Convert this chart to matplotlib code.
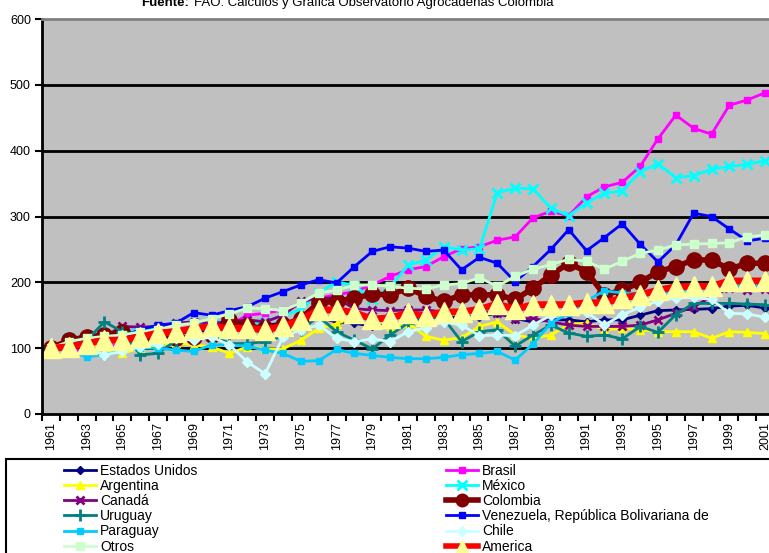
import matplotlib
matplotlib.use("Agg")
import matplotlib.pyplot as plt
from matplotlib.patches import Rectangle
from matplotlib.lines import Line2D

plt.rcParams['font.family'] = ['Liberation Sans', 'DejaVu Sans']

years = list(range(1961, 2002))

estados_unidos = [100,103,107,110,113,117,120,122,125,128,130,130,135,138,142,146,140,138,133,135,
                  140,148,145,148,148,153,145,140,143,143,140,143,143,150,157,158,159,160,164,165,161]
brasil = [100,98,95,102,106,108,112,115,118,125,135,150,153,158,166,176,181,186,196,209,
          219,224,239,251,254,264,269,298,308,301,330,345,352,376,418,454,434,425,469,477,488]
argentina = [100,105,112,97,92,100,105,108,105,102,92,102,99,99,112,130,137,148,148,134,
             138,118,112,116,133,140,120,115,120,136,138,128,130,128,125,125,125,115,125,124,122]
mexico = [100,115,118,120,125,128,130,135,138,140,140,135,140,150,158,184,201,195,175,193,
          226,234,254,249,251,336,343,342,313,301,321,335,339,368,380,359,362,372,376,379,385]
canada = [100,110,115,118,133,132,133,138,140,138,140,143,140,150,171,176,176,160,158,157,
          158,158,155,153,155,153,145,145,140,135,133,133,133,135,143,153,163,178,191,189,190]
colombia = [100,112,117,120,124,113,115,115,117,120,143,133,130,135,145,169,171,176,182,181,
            191,179,171,181,181,181,174,191,211,229,216,181,188,200,216,224,234,234,220,229,229]
uruguay = [100,105,112,140,125,90,92,112,117,120,107,107,110,118,128,148,125,112,99,120,
           138,148,145,110,125,128,103,120,135,123,118,120,114,133,124,151,168,168,168,167,166]
venezuela = [100,105,110,112,118,128,135,138,154,150,157,163,176,186,196,204,199,224,247,254,
             252,247,249,219,238,229,201,224,250,280,248,268,289,258,231,257,305,300,281,263,267]
paraguay = [100,95,87,90,97,100,100,97,95,105,105,103,97,92,80,81,98,92,89,86,
            84,84,86,90,92,95,82,106,138,153,172,187,184,183,184,186,190,192,195,195,195]
chile = [100,107,100,90,95,102,107,115,112,117,105,79,61,117,128,135,115,110,114,110,
         125,131,140,135,119,120,119,135,150,160,155,135,151,162,172,176,177,174,153,152,147]
otros = [100,110,115,118,120,125,128,135,138,145,152,161,160,157,169,184,188,196,196,194,
         191,190,196,198,207,194,209,220,227,235,232,220,232,244,249,257,258,259,260,269,272]
america = [100,102,107,112,112,117,123,125,130,133,130,130,128,133,143,158,158,154,144,146,
           153,149,155,155,159,167,159,166,166,166,169,169,176,181,188,193,194,194,202,202,202]

fig = plt.figure(figsize=(7.69, 5.53), dpi=100)
ax = fig.add_axes([42/769, 1-414/553, 732/769, 395/553])
ax.set_facecolor('#C0C0C0')

x = list(range(len(years)))

# series in Excel order (row-wise legend order)
series = [
    ("Estados Unidos", estados_unidos, dict(color='#000080', marker='D', ms=4, lw=2)),
    ("Brasil", brasil, dict(color='#FF00FF', marker='s', ms=5, lw=2)),
    ("Argentina", argentina, dict(color='#FFFF00', marker='^', ms=6, lw=2)),
    ("México", mexico, dict(color='#00FFFF', marker='x', ms=7, mew=2, lw=2)),
    ("Canadá", canada, dict(color='#800080', marker='x', ms=6, mew=2, lw=2)),
    ("Colombia", colombia, dict(color='#800000', marker='o', ms=11, lw=4)),
    ("Uruguay", uruguay, dict(color='#008080', marker='+', ms=8, mew=2, lw=2)),
    ("Venezuela, República Bolivariana de", venezuela, dict(color='#0000FF', marker='s', ms=4, lw=2)),
    ("Paraguay", paraguay, dict(color='#00CCFF', marker='s', ms=4, lw=2)),
    ("Chile", chile, dict(color='#CCFFFF', marker='D', ms=5, lw=2)),
    ("Otros", otros, dict(color='#CCFFCC', marker='s', ms=6, lw=2, mec='#CCFFCC')),
    ("America", america, dict(color='#FF0000', marker='^', ms=14, lw=5,
                              mfc='#FFFF99', mec='#FFFF99')),
]

handles = {}
for name, vals, kw in series:
    line, = ax.plot(x, vals, label=name, **kw)
    handles[name] = line

ax.set_xlim(-0.5, 40.5)
ax.set_ylim(0, 600)
ax.set_yticks(range(0, 601, 100))
for v in range(100, 600, 100):
    ax.axhline(v, color='black', lw=2, zorder=0.5)

ax.set_xticks(x[::2])
ax.set_xticklabels([str(y) for y in years[::2]], rotation=90)
ax.set_xticks([i - 0.5 for i in range(42)], minor=True)
ax.tick_params(axis='x', which='major', length=0, pad=6, labelsize=9)
ax.tick_params(axis='x', which='minor', length=5, width=1.5, direction='out')
ax.tick_params(axis='y', length=5, width=1.5, labelsize=9, pad=3)

ax.spines['left'].set_linewidth(2)
ax.spines['bottom'].set_linewidth(2)
ax.spines['top'].set_color('#808080')
ax.spines['top'].set_linewidth(2)
ax.spines['right'].set_visible(False)

# title, cut at the top
fig.text(189/769, 1-6/553, "Fuente:", ha='right', va='baseline', fontsize=9.5, fontweight='bold')
fig.text(194/769, 1-6/553, "FAO. Calculos y Grafica Observatorio Agrocadenas Colombia",
         ha='left', va='baseline', fontsize=9.5)

# legend box
fig.patches.append(Rectangle((6/769, -0.1), 1.0, (553-459)/553 + 0.1,
                             transform=fig.transFigure, facecolor='white',
                             edgecolor='black', lw=1.5, zorder=0))

left_names = ["Estados Unidos", "Argentina", "Canadá", "Uruguay", "Paraguay", "Otros"]
right_names = ["Brasil", "México", "Colombia", "Venezuela, República Bolivariana de", "Chile", "America"]

def small_handle(name):
    h = handles[name]
    ms = min(h.get_markersize(), 9)
    return Line2D([], [], color=h.get_color(), lw=min(h.get_linewidth(), 4),
                  marker=h.get_marker(), ms=ms, mew=h.get_markeredgewidth(),
                  mfc=h.get_markerfacecolor(), mec=h.get_markeredgecolor())

leg_kw = dict(frameon=False, loc='upper left', fontsize=10, borderpad=0, borderaxespad=0,
              labelspacing=0.08, handlelength=2.3, handletextpad=0.3)
leg1 = fig.legend([small_handle(n) for n in left_names], left_names,
                  bbox_to_anchor=(64/769, 1-464/553), **leg_kw)
leg2 = fig.legend([small_handle(n) for n in right_names], right_names,
                  bbox_to_anchor=(446/769, 1-464/553), **leg_kw)

fig.savefig("out.png", dpi=100)
